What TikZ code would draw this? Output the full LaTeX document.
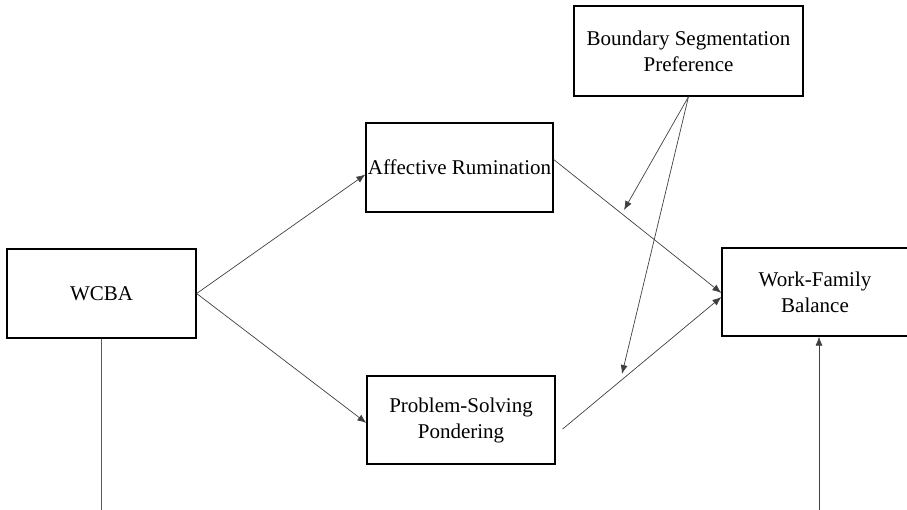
\documentclass[tikz,border=0pt]{standalone}
\usepackage{fontspec}
\setmainfont{Liberation Serif}
\usetikzlibrary{arrows.meta,calc}
\begin{document}
\begin{tikzpicture}[x=1pt,y=-1pt,
  box/.style={draw=black,line width=1.3pt,fill=white,inner sep=0pt,align=center,
    font=\fontsize{21}{26}\selectfont},
  conn/.style={draw=black!75,line width=0.7pt,-{Latex[length=9pt,width=7pt]}},
  plain/.style={draw=black!65,line width=0.8pt}]
\useasboundingbox (0,0) rectangle (907,510);
\node[box,minimum width=189pt,minimum height=89pt] (w) at (101.5,293.5) {WCBA};
\node[box,minimum width=187pt,minimum height=89pt] (ar) at (459.5,167.5) {Affective Rumination};
\node[box,minimum width=188pt,minimum height=88pt] (psp) at (461,420) {Problem-Solving\\Pondering};
\node[box,minimum width=229pt,minimum height=90pt] (bsp) at (688.5,51) {Boundary Segmentation\\Preference};
\node[box,minimum width=186pt,minimum height=88pt] (wfb) at (815,292) {Work-Family\\Balance};
\coordinate (m1) at (624,210);
\coordinate (m2) at (622,374);
\coordinate (b1) at (101.5,510);
\coordinate (b2) at (819,510);
\draw[conn] (w.east) -- ([yshift=-7pt]ar.west);
\draw[conn] (w.east) -- ([yshift=-3pt]psp.west);
\draw[conn] ([yshift=8pt]ar.east) -- ([yshift=-1pt]wfb.west);
\draw[conn] ([xshift=7pt,yshift=-9pt]psp.east) -- ([yshift=-5pt]wfb.west);
\draw[conn] (bsp.south) -- (m1);
\draw[conn] (bsp.south) -- (m2);
\draw[plain] (w.south) -- (b1);
\draw[conn] (b2) -- ([xshift=4pt]wfb.south);
\end{tikzpicture}
\end{document}
